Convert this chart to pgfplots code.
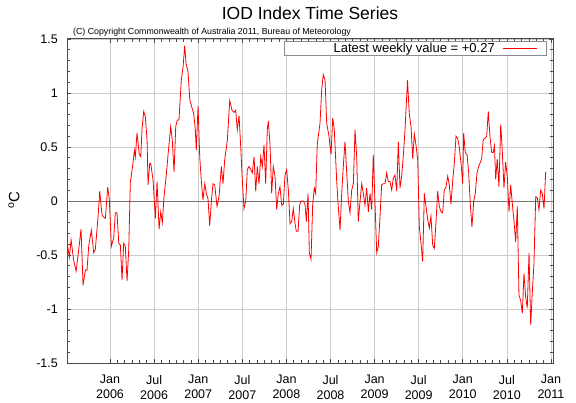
\documentclass[border=0pt]{standalone}
\usepackage{pgfplots}
\pgfplotsset{compat=1.18}
\usepackage{fontspec}
\setmainfont{Liberation Sans}
\begin{document}
\begin{tikzpicture}
\useasboundingbox (0,0) rectangle (576bp,403bp);
\begin{axis}[
  at={(67bp,40bp)}, anchor=south west,
  scale only axis, width=486bp, height=324bp,
  xmin=2005.512, xmax=2011.023,
  ymin=-1.5, ymax=1.5,
  xtick={2006,2006.5,2007,2007.5,2008,2008.5,2009,2009.5,2010,2010.5,2011},
  xticklabels={Jan\\2006,Jul\\2006,Jan\\2007,Jul\\2007,Jan\\2008,Jul\\2008,Jan\\2009,Jul\\2009,Jan\\2010,Jul\\2010,Jan\\2011},
  minor x tick num=5,
  ytick={-1.5,-1,-0.5,0,0.5,1,1.5},
  minor y tick num=4,
  /pgf/number format/assume math mode=true,
  tick align=inside,
  major tick length=4bp, minor tick length=3bp,
  tick style={black!70, line width=0.6bp},
  xmajorgrids, ymajorgrids,
  major grid style={black!20, line width=0.6bp},
  axis line style={black!70, line width=1bp},
  xticklabel style={align=center, inner sep=0pt, yshift=-12bp, font=\fontsize{12.5bp}{15bp}\selectfont},
  yticklabel style={inner sep=0pt, xshift=-9bp, font=\fontsize{12.5bp}{14bp}\selectfont},
  extra y ticks={0}, extra y tick labels={},
  extra y tick style={grid=major, major grid style={black!55, line width=0.8bp}, major tick length=0pt},
  title={IOD Index Time Series},
  title style={at={(axis description cs:0.5,1)}, anchor=base, yshift=14bp, font=\fontsize{17.5bp}{20bp}\selectfont},
  legend plot pos=right,
  legend style={at={(axis description cs:0.98765,0.99383)}, anchor=north east,
    draw=black!45, fill=white, inner xsep=9bp, inner ysep=0.5bp, line width=0.6bp,
    nodes={inner sep=0pt, text height=10.5bp, text depth=2.5bp},
    font=\fontsize{13bp}{14bp}\selectfont},
]
\addplot[red, line width=0.8bp,
  legend image code/.code={\draw[red, line width=0.9bp] (0bp,0bp) -- (34bp,0bp);}] table {
x y
2005.512 -0.38
2005.539 -0.52
2005.558 -0.36
2005.588 -0.55
2005.615 -0.65
2005.645 -0.45
2005.671 -0.26
2005.694 -0.78
2005.720 -0.64
2005.739 -0.64
2005.759 -0.41
2005.788 -0.27
2005.815 -0.48
2005.833 -0.45
2005.864 -0.15
2005.883 0.09
2005.909 -0.13
2005.929 -0.15
2005.947 -0.16
2005.974 0.13
2005.992 0.01
2006.015 -0.42
2006.042 -0.34
2006.060 -0.11
2006.079 -0.11
2006.099 -0.39
2006.117 -0.41
2006.136 -0.73
2006.155 -0.39
2006.173 -0.42
2006.193 -0.74
2006.212 -0.45
2006.230 0.17
2006.257 0.33
2006.276 0.47
2006.287 0.41
2006.306 0.63
2006.332 0.43
2006.348 0.41
2006.363 0.67
2006.382 0.83
2006.400 0.78
2006.420 0.56
2006.431 0.15
2006.450 0.35
2006.461 0.35
2006.488 0.19
2006.514 -0.16
2006.533 0.18
2006.556 -0.26
2006.575 -0.10
2006.593 -0.20
2006.612 0.04
2006.638 0.24
2006.658 0.43
2006.688 0.69
2006.706 0.56
2006.726 0.27
2006.745 0.69
2006.763 0.75
2006.782 0.75
2006.808 1.12
2006.828 1.24
2006.847 1.44
2006.862 1.27
2006.884 1.20
2006.904 0.94
2006.930 0.86
2006.949 0.81
2006.967 0.66
2006.978 0.47
2006.998 0.88
2007.017 0.41
2007.035 0.19
2007.054 0.01
2007.074 0.16
2007.092 0.07
2007.111 0.02
2007.130 -0.23
2007.149 0.00
2007.168 0.16
2007.187 0.15
2007.213 -0.05
2007.236 0.04
2007.262 0.32
2007.281 0.16
2007.300 0.38
2007.330 0.56
2007.357 0.93
2007.383 0.84
2007.406 0.82
2007.425 0.84
2007.443 0.66
2007.463 0.79
2007.482 0.50
2007.500 0.19
2007.519 -0.07
2007.539 0.00
2007.557 0.29
2007.576 0.32
2007.595 0.29
2007.613 0.26
2007.633 0.41
2007.652 0.09
2007.670 0.32
2007.689 0.16
2007.709 0.41
2007.727 0.32
2007.746 0.52
2007.765 0.16
2007.783 0.66
2007.795 0.74
2007.814 0.52
2007.833 0.07
2007.851 0.32
2007.871 0.23
2007.890 -0.08
2007.908 0.07
2007.927 0.13
2007.947 -0.04
2007.965 -0.03
2007.984 0.24
2008.003 0.29
2008.022 0.10
2008.041 -0.21
2008.060 -0.19
2008.078 -0.07
2008.098 -0.21
2008.112 -0.28
2008.132 -0.28
2008.151 -0.03
2008.169 0.00
2008.192 0.00
2008.211 -0.03
2008.226 -0.19
2008.245 0.07
2008.260 -0.48
2008.279 -0.54
2008.298 -0.03
2008.316 0.12
2008.332 0.07
2008.350 0.53
2008.381 0.72
2008.400 1.03
2008.418 1.17
2008.438 1.12
2008.457 0.72
2008.483 0.60
2008.506 0.43
2008.525 0.77
2008.543 0.66
2008.570 0.19
2008.588 -0.05
2008.608 -0.27
2008.627 0.07
2008.645 0.32
2008.664 0.55
2008.684 0.26
2008.702 0.00
2008.721 -0.11
2008.740 0.10
2008.759 0.16
2008.778 0.66
2008.797 0.41
2008.815 -0.19
2008.834 -0.01
2008.854 0.16
2008.872 0.07
2008.891 -0.04
2008.910 0.12
2008.929 -0.10
2008.948 0.07
2008.967 -0.08
2008.985 0.43
2009.005 -0.03
2009.024 -0.48
2009.042 -0.42
2009.061 -0.15
2009.080 0.15
2009.099 0.16
2009.118 0.16
2009.137 0.26
2009.155 0.18
2009.175 0.18
2009.194 0.10
2009.212 0.21
2009.231 0.24
2009.251 0.09
2009.269 0.55
2009.288 0.12
2009.307 0.23
2009.325 0.41
2009.345 0.66
2009.373 1.12
2009.393 0.81
2009.413 0.69
2009.432 0.39
2009.450 0.62
2009.469 0.52
2009.489 0.38
2009.507 -0.24
2009.526 -0.39
2009.545 -0.56
2009.564 0.07
2009.583 -0.05
2009.602 -0.17
2009.620 -0.25
2009.639 -0.14
2009.659 -0.41
2009.677 -0.44
2009.696 -0.20
2009.715 0.09
2009.734 -0.05
2009.753 -0.10
2009.772 -0.11
2009.790 0.10
2009.810 0.13
2009.829 0.23
2009.847 0.15
2009.866 -0.03
2009.886 0.19
2009.904 0.35
2009.923 0.60
2009.942 0.58
2009.960 0.50
2009.980 0.35
2009.999 0.16
2010.010 0.63
2010.028 0.45
2010.048 0.43
2010.067 0.26
2010.085 -0.03
2010.104 -0.24
2010.124 0.00
2010.142 0.07
2010.161 0.26
2010.180 0.32
2010.195 0.35
2010.214 0.39
2010.232 0.57
2010.252 0.58
2010.271 0.60
2010.289 0.83
2010.308 0.60
2010.328 0.45
2010.346 0.45
2010.359 0.51
2010.373 0.20
2010.391 0.39
2010.410 0.13
2010.430 0.71
2010.448 0.46
2010.467 0.12
2010.486 0.36
2010.505 0.22
2010.524 -0.10
2010.543 0.15
2010.561 -0.02
2010.580 -0.18
2010.600 -0.38
2010.618 -0.05
2010.637 -0.87
2010.656 -0.92
2010.675 -1.04
2010.694 -0.67
2010.713 -0.89
2010.731 -0.99
2010.751 -0.48
2010.770 -1.15
2010.788 -0.85
2010.807 -0.58
2010.827 0.04
2010.845 0.03
2010.864 -0.08
2010.883 0.10
2010.901 0.07
2010.921 -0.07
2010.940 0.27
};
\addlegendentry{\makebox[210bp][r]{Latest weekly value = +0.27\hspace{8bp}}}
\end{axis}
\node[anchor=base west, inner sep=0pt, font=\fontsize{8.8bp}{10bp}\selectfont] at (73bp,368bp) {(C) Copyright Commonwealth of Australia 2011, Bureau of Meteorology};
\node[rotate=90, inner sep=0pt, font=\fontsize{15bp}{16bp}\selectfont] at (14bp,203bp) {\textsuperscript{o}C};
\end{tikzpicture}
\end{document}
